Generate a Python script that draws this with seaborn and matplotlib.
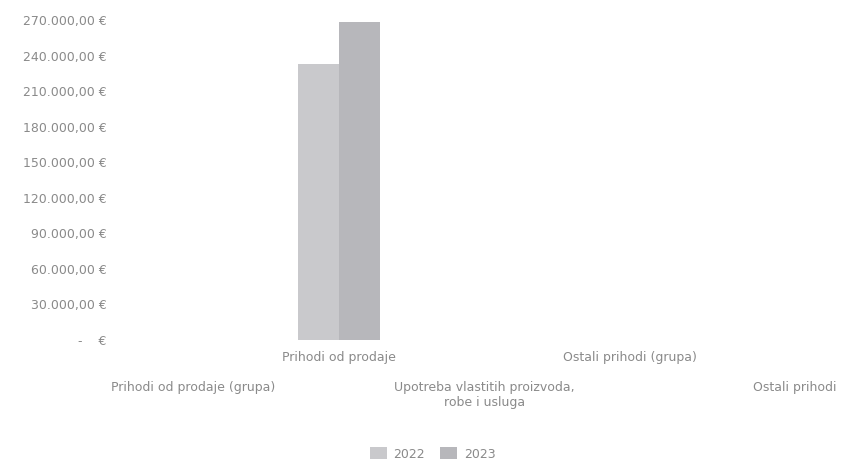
import pandas as pd
import seaborn as sns
import matplotlib.pyplot as plt
import matplotlib.transforms as mtransforms

# data
categories = ['Prihodi od prodaje (grupa)', 'Prihodi od prodaje',
              'Upotreba vlastitih proizvoda,\nrobe i usluga',
              'Ostali prihodi (grupa)', 'Ostali prihodi']
years = ['2022', '2023']
values_2022 = [0, 233000, 0, 0, 0]
values_2023 = [0, 268000, 0, 0, 0]
y_ticks = [0, 30000, 60000, 90000, 120000, 150000, 180000, 210000, 240000, 270000]

df = pd.DataFrame({
    'kategorija': categories * 2,
    'godina': [years[0]] * len(categories) + [years[1]] * len(categories),
    'iznos': values_2022 + values_2023,
})

sns.set_theme(style='white')
plt.rcParams['font.family'] = ['DejaVu Sans']
text_col = '#8a8a8a'

fig = plt.figure(figsize=(8.48, 4.66), dpi=100)
ax = fig.add_axes([0.142, 0.2704, 0.858, 0.6867])

sns.barplot(data=df, x='kategorija', y='iznos', hue='godina', order=categories,
            palette={'2022': '#c9c9cc', '2023': '#b7b7bb'}, width=0.565,
            saturation=1, linewidth=0, ax=ax)

ax.set_xlim(-0.5, 4.5)
ax.set_ylim(0, 270000)
ax.set_yticks(y_ticks)


def euro(v):
    if v == 0:
        return '-    €'
    return f'{v:,.2f}'.replace(',', 'X').replace('.', ',').replace('X', '.') + ' €'


ax.set_yticklabels([euro(v) for v in y_ticks], fontsize=9, color=text_col)

# staggered category labels like in Excel
labels = [('\n\n' + c if i % 2 == 0 else c) for i, c in enumerate(categories)]
ax.set_xticks(range(len(categories)))
ax.set_xticklabels(labels, fontsize=9, color=text_col)
ax.tick_params(axis='both', length=0)
ax.tick_params(axis='y', pad=10)
ax.tick_params(axis='x', pad=8)
ax.set_xlabel('')
ax.set_ylabel('')
sns.despine(ax=ax, left=True, bottom=True)

# last label sits further right in the original
last = ax.get_xticklabels()[-1]
last.set_transform(last.get_transform() +
                   mtransforms.ScaledTranslation(0.2, 0, fig.dpi_scale_trans))

ax.legend_.remove()
handles, _ = ax.get_legend_handles_labels()
fig.legend(handles, years, loc='center', bbox_to_anchor=(0.51, 0.026), ncol=2,
           frameon=False, fontsize=9, labelcolor=text_col, handlelength=1.4,
           handleheight=1.1, columnspacing=1.2, handletextpad=0.5)

fig.savefig('out.png', dpi=100)
